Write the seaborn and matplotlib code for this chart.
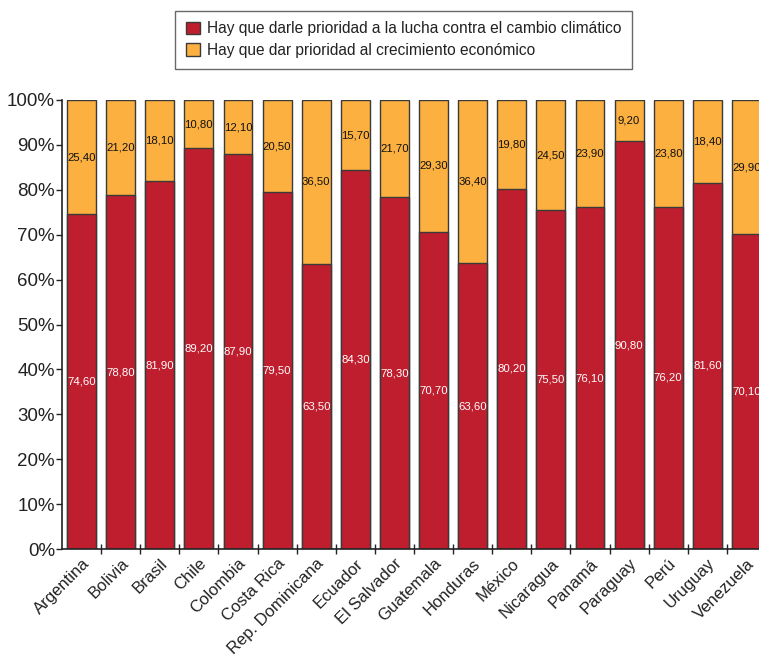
import pandas as pd
import matplotlib.pyplot as plt
import seaborn as sns
from matplotlib.patches import Patch
from matplotlib.ticker import FixedLocator

# Datos
paises = ['Argentina', 'Bolivia', 'Brasil', 'Chile', 'Colombia', 'Costa Rica',
          'Rep. Dominicana', 'Ecuador', 'El Salvador', 'Guatemala', 'Honduras',
          'México', 'Nicaragua', 'Panamá', 'Paraguay', 'Perú', 'Uruguay', 'Venezuela']
cambio_climatico = [74.6, 78.8, 81.9, 89.2, 87.9, 79.5, 63.5, 84.3, 78.3, 70.7,
                    63.6, 80.2, 75.5, 76.1, 90.8, 76.2, 81.6, 70.1]
crecimiento = [25.4, 21.2, 18.1, 10.8, 12.1, 20.5, 36.5, 15.7, 21.7, 29.3,
               36.4, 19.8, 24.5, 23.9, 9.2, 23.8, 18.4, 29.9]
serie_1 = 'Hay que darle prioridad a la lucha contra el cambio climático'
serie_2 = 'Hay que dar prioridad al crecimiento económico'

ROJO = '#BE1E2D'
NARANJA = '#FBB040'
BORDE = '#3a3a3a'


def fmt(v):
    return f'{v:.2f}'.replace('.', ',')


def main():
    df = pd.DataFrame({'pais': paises, 'rojo': cambio_climatico, 'naranja': crecimiento})
    df['total'] = df['rojo'] + df['naranja']

    sns.set_theme(style='white')
    plt.rcParams['font.family'] = ['Liberation Sans', 'DejaVu Sans']

    fig = plt.figure(figsize=(7.59, 6.57), dpi=100)
    ax = fig.add_axes([62 / 759, 108 / 657, 704 / 759, 449 / 657])

    # Barra total (naranja) y encima la parte roja
    sns.barplot(data=df, x='pais', y='total', color=NARANJA, saturation=1,
                width=0.74, edgecolor=BORDE, linewidth=1, ax=ax)
    sns.barplot(data=df, x='pais', y='rojo', color=ROJO, saturation=1,
                width=0.74, edgecolor=BORDE, linewidth=1, ax=ax)

    # Etiquetas de valores (la última barra queda cortada como en el original)
    for i, (r, n) in enumerate(zip(cambio_climatico, crecimiento)):
        ax.text(i, r / 2, fmt(r), ha='center', va='center', color='white', fontsize=8.2)
        ax.text(i, r + n / 2, fmt(n), ha='center', va='center', color='#111111', fontsize=8.2)

    ax.set_xlim(-0.5, len(paises) - 0.5)
    ax.set_ylim(0, 100)
    ax.set_yticks(range(0, 101, 10))
    ax.set_yticklabels([f'{v}%' for v in range(0, 101, 10)], fontsize=13.5, color='#222222')
    ax.set_xticks(range(len(paises)))
    ax.set_xticklabels(paises, rotation=45, ha='right', rotation_mode='anchor',
                       fontsize=12, color='#222222')
    ax.xaxis.set_minor_locator(FixedLocator([i + 0.5 for i in range(len(paises))]))
    ax.tick_params(axis='x', which='major', length=0, pad=5)
    ax.tick_params(axis='x', which='minor', direction='inout', length=7, width=1,
                   color='#222222', bottom=True)
    ax.tick_params(axis='y', direction='out', length=4, width=1, color='#222222',
                   left=True, pad=1)
    ax.set_xlabel('')
    ax.set_ylabel('')

    for s in ['top', 'right']:
        ax.spines[s].set_visible(False)
    for s in ['left', 'bottom']:
        ax.spines[s].set_color('#222222')
        ax.spines[s].set_linewidth(1.2)

    handles = [Patch(facecolor=ROJO, edgecolor=BORDE, label=serie_1),
               Patch(facecolor=NARANJA, edgecolor=BORDE, label=serie_2)]
    leg = fig.legend(handles=handles, loc='upper center', bbox_to_anchor=(0.532, 0.984),
                     fontsize=11.2, frameon=True, fancybox=False, handlelength=0.9,
                     handleheight=0.9, handletextpad=0.45, borderpad=0.7,
                     labelspacing=0.4, borderaxespad=0)
    for t in leg.get_texts():
        t.set_color('#222222')
    leg.get_frame().set_edgecolor('#444444')
    leg.get_frame().set_linewidth(1)

    fig.savefig('out.png', dpi=100)


if __name__ == '__main__':
    main()
